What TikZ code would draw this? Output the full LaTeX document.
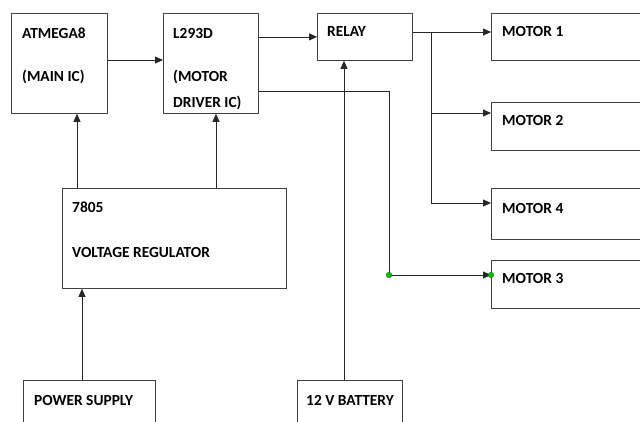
\documentclass[tikz,border=0pt]{standalone}
\usepackage{fontspec}
\setmainfont{Carlito}
\usetikzlibrary{positioning}
\usetikzlibrary{arrows.meta}

\tikzset{
  box/.style={draw=black!75, line width=0.8pt, anchor=north west, inner sep=0pt},
  lbl/.style={anchor=base west, inner sep=0pt, font=\bfseries\fontsize{15.4}{18}\selectfont, text=black},
  arr/.style={draw=black!85, line width=0.8pt, -{Triangle[length=8pt,width=7pt]}},
  wire/.style={draw=black!85, line width=0.8pt},
  dot/.style={circle, fill=green!75!black, draw=green!45!black, line width=0.3pt, inner sep=0pt, minimum size=5.5pt}
}

\begin{document}
\begin{tikzpicture}[x=1pt,y=-1pt]

% Canvas
\clip (0,0) rectangle (640,421);
\fill[white] (0,0) rectangle (640,421);

% Blocks
\node[box, minimum width=96pt, minimum height=100pt] (atmega) at (11,13) {};
\node[box, minimum width=95pt, minimum height=100pt] (driver) at (163,13) {};
\node[box, minimum width=95pt, minimum height=47pt] (relay) at (317,13) {};
\node[box, minimum width=224pt, minimum height=100pt] (reg) at (62,188) {};
\node[box, minimum width=132pt, minimum height=60pt] (supply) at (23,380) {};
\node[box, minimum width=105pt, minimum height=60pt] (battery) at (297,380) {};

% Motors (cut off at the right edge)
\node[box, minimum width=170pt, minimum height=47pt] (motorA) at (491,13) {};
\node[box, minimum width=170pt, minimum height=48pt] (motorB) at (491,102) {};
\node[box, minimum width=170pt, minimum height=51pt] (motorD) at (491,188) {};
\node[box, minimum width=170pt, minimum height=48pt] (motorC) at (491,260) {};

% Labels
\node[lbl] (atmegaA) at (22,38) {ATMEGA8};
\node[lbl] (atmegaB) at (22,81) {(MAIN IC)};
\node[lbl] (driverA) at (173,38) {L293D};
\node[lbl] (driverB) at (173,81) {(MOTOR};
\node[lbl] (driverC) at (173,107) {DRIVER IC)};
\node[lbl] (relayA) at (327,36) {RELAY};
\node[lbl] (regA) at (72,212) {7805};
\node[lbl] (regB) at (72,257) {VOLTAGE REGULATOR};
\node[lbl] (supplyA) at (34,405) {POWER SUPPLY};
\node[lbl] (batteryA) at (306,405) {12 V BATTERY};
\node[lbl] (motorAl) at (502,36) {MOTOR 1};
\node[lbl] (motorBl) at (502,125) {MOTOR 2};
\node[lbl] (motorDl) at (502,213) {MOTOR 4};
\node[lbl] (motorCl) at (502,283) {MOTOR 3};

% Junctions
\coordinate (split) at (431,32);
\coordinate (tap) at (389,275);

% Signal path
\draw[arr] (atmega.east |- 0,60) -- (driver.west |- 0,60);
\draw[arr] (driver.east |- relay) -- (relay.west);
\draw[arr] (relay.east |- split) -- (motorA.west |- split);
\draw[arr] (split |- 0,113) -- (motorB.west |- 0,113);
\draw[arr] (split) |- (motorD.west |- 0,203);
\draw[wire] (driver.east |- 0,91) -| (tap);
\draw[arr] (tap) -- (motorC.west |- tap);

% Supply path
\draw[arr] (supply.north -| 82,0) -- (reg.south -| 82,0);
\draw[arr] (reg.north -| 77,0) -- (atmega.south -| 77,0);
\draw[arr] (reg.north -| 216,0) -- (driver.south -| 216,0);
\draw[arr] (battery.north -| 344,0) -- (relay.south -| 344,0);

% Green dots
\node[dot] (dotA) at (tap) {};
\node[dot] (dotB) at (motorC.west |- tap) {};

\end{tikzpicture}
\end{document}
